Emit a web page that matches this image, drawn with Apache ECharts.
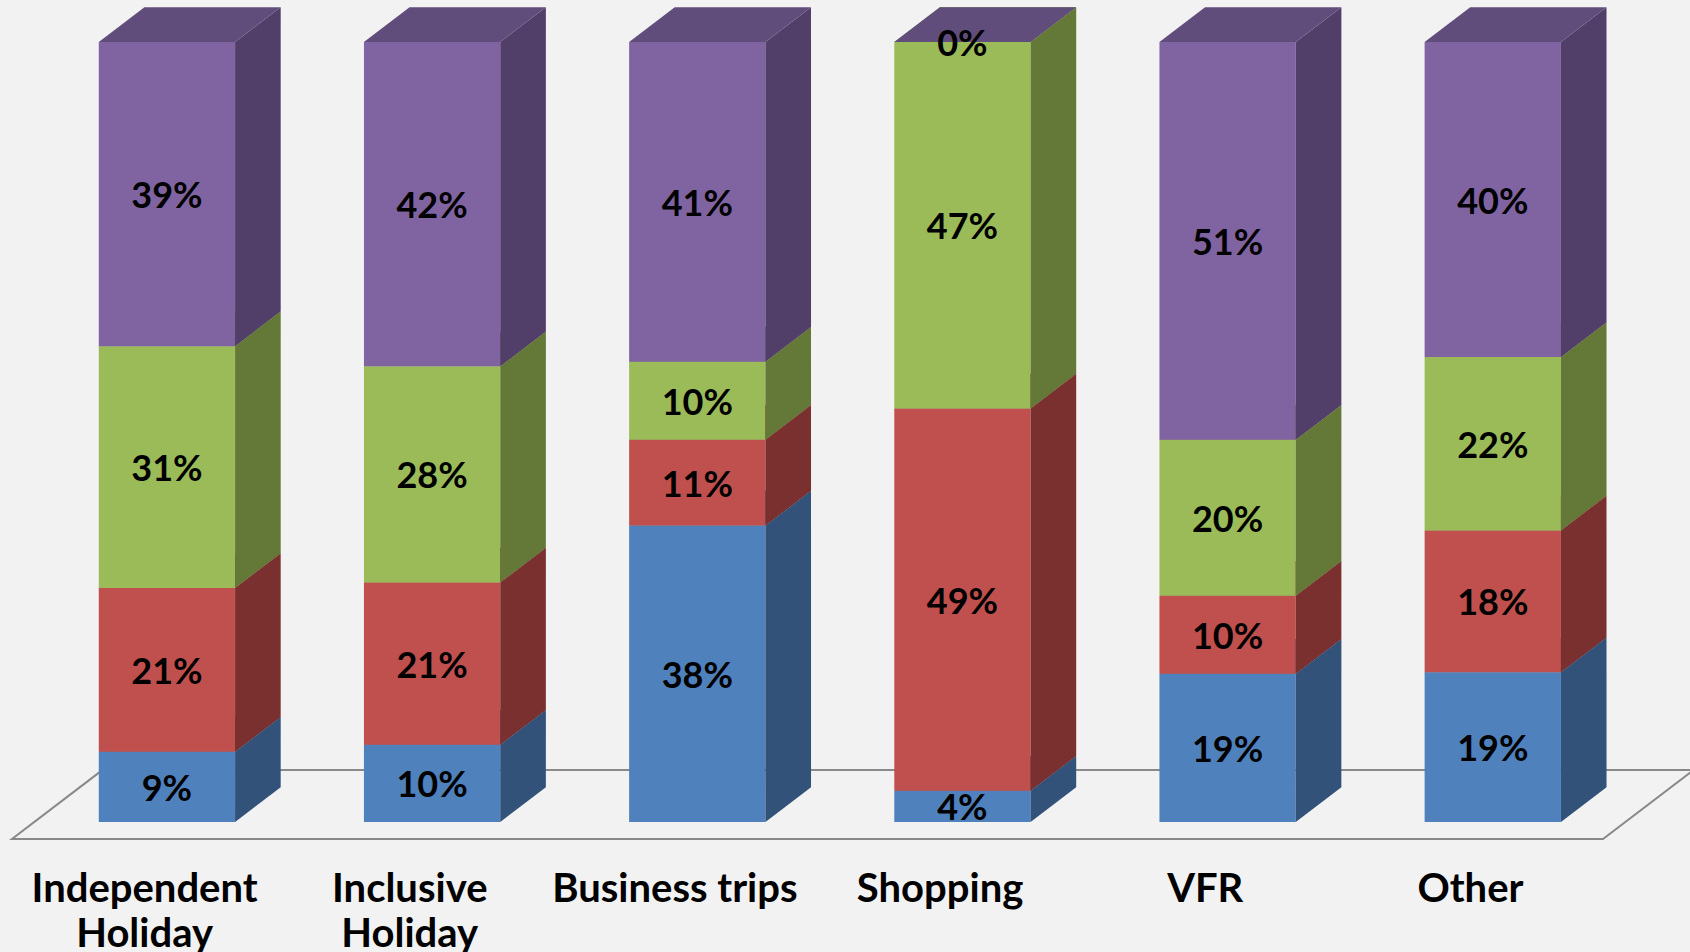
<!DOCTYPE html>
<html>
<head>
<meta charset="utf-8">
<title>Trip purpose shares</title>
<script src="https://cdn.jsdelivr.net/npm/echarts@6/dist/echarts.min.js"></script>
<style>
  html, body { margin: 0; padding: 0; background: #F2F2F2; }
  #chart { width: 1690px; height: 952px; }
</style>
</head>
<body>
<div id="chart"></div>
<script>
// ---- data ----
const categories = ['Independent\nHoliday', 'Inclusive\nHoliday', 'Business trips', 'Shopping', 'VFR', 'Other'];
const blueShare   = [9, 10, 38, 4, 19, 19];
const redShare    = [21, 21, 11, 49, 10, 18];
const greenShare  = [31, 28, 10, 47, 20, 22];
const purpleShare = [39, 42, 41, 0, 51, 40];

// ---- look ----
const layers = [
  { name: 'Share 1', values: blueShare,   front: '#4F81BD', side: '#325279', top: '#3D6491' },
  { name: 'Share 2', values: redShare,    front: '#C0504D', side: '#7B3030', top: '#933D3B' },
  { name: 'Share 3', values: greenShare,  front: '#9BBB59', side: '#647837', top: '#779045' },
  { name: 'Share 4', values: purpleShare, front: '#8064A2', side: '#513F69', top: '#614D7C' }
];

// 3D box geometry, expressed as fractions of one category slot
const BAR_RATIO = 0.514;                 // front face width / slot width
const DEPTH = [0.172, -0.1312];          // box depth vector
const FRONT_GAP = 0.49;                  // floor rim in front of / behind the boxes, in box depths

// 100% stacking: each category is scaled to its own total
const totals = categories.map((_, c) => layers.reduce((s, l) => s + l.values[c], 0));
const starts = categories.map(() => 0);
const stackedData = layers.map(l => l.values.map((v, c) => {
  const lo = starts[c];
  const hi = lo + v / totals[c] * 100;
  starts[c] = hi;
  return [c, lo, hi, v];
}));

function boxRenderer(layer) {
  return function (params, api) {
    const cat = api.value(0), lo = api.value(1), hi = api.value(2), raw = api.value(3);
    const slot = api.size([1, 0])[0];
    const w = slot * BAR_RATIO;
    const dx = slot * DEPTH[0], dy = slot * DEPTH[1];
    const ox = dx * FRONT_GAP, oy = dy * FRONT_GAP;
    const pb = api.coord([cat, lo]);
    const pt = api.coord([cat, hi]);
    const x0 = pb[0] - w / 2 + ox, x1 = x0 + w;
    const yb = pb[1] + oy, yt = pt[1] + oy;
    return {
      type: 'group',
      children: [
        { type: 'rect', shape: { x: x0, y: yt, width: w, height: yb - yt },
          style: { fill: layer.front } },
        { type: 'polygon', shape: { points: [[x1, yt], [x1 + dx, yt + dy], [x1 + dx, yb + dy], [x1, yb]] },
          style: { fill: layer.side } },
        { type: 'polygon', shape: { points: [[x0, yt], [x0 + dx, yt + dy], [x1 + dx, yt + dy], [x1, yt]] },
          style: { fill: layer.top } },
        { type: 'text', x: (x0 + x1) / 2, y: (yt + yb) / 2, z2: 10,
          style: { text: raw + '%', fill: '#000', font: 'bold 36px Lato', align: 'center', verticalAlign: 'middle' } }
      ]
    };
  };
}

// floor outline under the boxes
function floorRenderer(params, api) {
  const cs = params.coordSys;
  const slot = cs.width / categories.length;
  const fdx = slot * DEPTH[0] * (1 + 2 * FRONT_GAP);
  const fdy = slot * DEPTH[1] * (1 + 2 * FRONT_GAP);
  const yf = cs.y + cs.height;
  const xl = cs.x, xr = cs.x + cs.width;
  return {
    type: 'polygon',
    shape: { points: [[xl, yf], [xr, yf], [xr + fdx, yf + fdy], [xl + fdx, yf + fdy]] },
    style: { fill: 'none', stroke: '#898989', lineWidth: 2 }
  };
}

const chart = echarts.init(document.getElementById('chart'), null, { renderer: 'svg' });
chart.setOption({
  backgroundColor: '#F2F2F2',
  animation: false,
  grid: { left: 12, right: 87, top: 59, bottom: 113, outerBoundsMode: 'none', containLabel: false },
  xAxis: {
    type: 'category',
    data: categories,
    axisLine: { show: false },
    axisTick: { show: false },
    splitLine: { show: false },
    axisLabel: {
      interval: 0, margin: 25, color: '#000',
      fontFamily: 'Lato', fontWeight: 'bold', fontSize: 40, lineHeight: 45
    }
  },
  yAxis: { type: 'value', min: 0, max: 100, show: false },
  series: [
    { type: 'custom', name: 'floor', renderItem: floorRenderer, data: [[0, 0]], z: 1, silent: true }
  ].concat(layers.map((l, i) => ({
    type: 'custom',
    name: l.name,
    renderItem: boxRenderer(l),
    encode: { x: 0, y: [1, 2] },
    data: stackedData[i],
    z: 2 + i
  })))
});
</script>
</body>
</html>
